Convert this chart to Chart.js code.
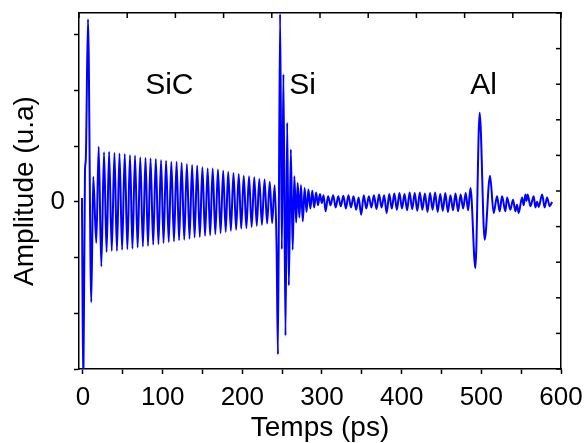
<!DOCTYPE html>
<html><head><meta charset="utf-8">
<script src="https://cdn.jsdelivr.net/npm/chart.js@4"></script>
<style>html,body{margin:0;padding:0;background:#fff}canvas{display:block}</style>
</head><body>
<canvas id="c" width="585" height="443"></canvas>
<script>
// ---- data (time in ps, amplitude in arbitrary units) ----
const onsetTime = [-1.3, 0.4, 2.5, 3.5, 6.3, 10.4, 12.9, 16.7, 19.7, 23.0];
const onsetAmp  = [0.07, -3.4, 0.55, 0.75, 3.28, -1.8, 0.45, -0.74, 0.99, -1.16];

const sicTime = [26.4, 29.6, 32.8, 36.1, 39.5, 42.6, 45.8, 49.1, 52.4, 55.7, 59.0, 62.1, 65.3, 68.6, 71.9, 75.2,
  78.5, 81.6, 84.8, 88.1, 91.4, 94.7, 98.0, 101.1, 104.3, 107.6, 110.9, 114.2, 117.5, 120.6, 123.8, 127.1,
  130.4, 133.7, 137.0, 140.1, 143.3, 146.6, 149.9, 153.2, 156.5, 159.6, 162.8, 166.1, 169.4, 172.7, 176.0, 179.1,
  182.3, 185.6, 188.9, 192.2, 195.5, 198.6, 201.8, 205.1, 208.4, 211.7, 215.0, 218.1, 221.3, 224.6, 227.9, 231.1,
  234.4, 237.4, 240.6];
const sicAmp = [0.89, -0.9, 0.9, -0.88, 0.88, -0.88, 0.87, -0.86, 0.86, -0.85, 0.84, -0.84, 0.83, -0.82, 0.8, -0.8,
  0.79, -0.79, 0.78, -0.77, 0.77, -0.76, 0.75, -0.74, 0.74, -0.72, 0.72, -0.71, 0.72, -0.69, 0.7, -0.68,
  0.68, -0.66, 0.66, -0.64, 0.65, -0.63, 0.62, -0.61, 0.6, -0.6, 0.6, -0.58, 0.58, -0.56, 0.56, -0.54,
  0.54, -0.52, 0.52, -0.5, 0.5, -0.48, 0.47, -0.47, 0.46, -0.45, 0.44, -0.43, 0.41, -0.41, 0.4, -0.39,
  0.36, -0.38, 0.3];

const siTime = [243.0, 244.7, 247.4, 249.6, 251.6, 254.2, 256.3, 258.4, 260.9, 263.2, 265.3, 267.6, 269.5, 271.6,
  273.6, 275.9, 278.2, 280.6, 283.0, 285.4, 287.8, 290.2, 292.6, 295.0, 297.4, 299.8, 302.0, 304.5];
const siAmp = [-0.8, -2.74, 3.37, -0.85, 2.29, -2.4, 1.42, -1.5, 0.94, -0.86, 0.46, -0.37, 0.34, -0.28,
  0.3, -0.35, 0.25, -0.18, 0.22, -0.12, 0.2, -0.1, 0.17, -0.06, 0.14, -0.02, 0.12, -0.17];

const flatTime = [307.6, 310.8, 314.0, 317.2, 320.4, 323.6, 326.8, 330.0, 333.2, 336.4, 339.6, 342.8, 346.0, 349.2,
  352.4, 355.6, 358.8, 362.0, 365.2, 368.4, 371.6, 374.8, 378.0, 381.2, 384.4, 387.6, 390.8, 394.0, 397.2, 400.4,
  403.6, 406.8, 410.0, 413.2, 416.4, 419.6, 422.8, 426.0, 429.2, 432.4, 435.6, 438.8, 442.0, 445.2, 448.4, 451.6,
  454.8, 458.0, 461.2, 464.4, 467.6, 470.8, 474.0, 477.2, 480.4, 483.4, 486.4];
const flatAmp = [0.1, -0.06, 0.12, -0.1, 0.1, -0.08, 0.11, -0.12, 0.12, -0.1, 0.1, -0.14, 0.08, -0.23,
  0.12, -0.12, 0.1, -0.1, 0.12, -0.13, 0.13, -0.1, 0.12, -0.2, 0.14, -0.12, 0.15, -0.14, 0.16, -0.12,
  0.14, -0.15, 0.17, -0.13, 0.16, -0.16, 0.17, -0.14, 0.15, -0.18, 0.16, -0.14, 0.17, -0.18, 0.14, -0.16,
  0.16, -0.18, 0.12, -0.15, 0.15, -0.17, 0.13, -0.12, 0.16, -0.15, 0.25];

const alTime = [492.5, 497.9, 504.2, 510.9, 515.5, 519.7, 523.0, 526.0, 530.2, 532.3, 536.4, 539.8, 542.7, 544.8,
  546.9, 551.1, 553.2, 555.3, 556.8, 558.2, 561.6, 565.7, 567.9, 570.0, 572.0, 576.3, 579.5, 582.5, 585.8, 588.8];
const alAmp = [-1.19, 1.6, -0.68, 0.47, -0.2, 0.1, -0.17, 0.1, -0.17, 0.08, -0.14, 0.04, -0.17, -0.05,
  -0.2, 0.08, -0.06, 0.13, 0.02, 0.13, -0.08, 0.1, -0.1, 0.0, -0.09, 0.13, -0.1, 0.08, -0.08, 0.0];

const peakLabels = ['SiC', 'Si', 'Al'];
const xAxisTitle = 'Temps (ps)';
const yAxisTitle = 'Amplitude (u.a)';

// ---- presentation ----
const FONT = '"Liberation Sans", Arial, Helvetica, sans-serif';
const labelAnchors = [{x: 78, y: 1.93}, {x: 258.8, y: 1.93}, {x: 486, y: 1.93}];

const time = [].concat(onsetTime, sicTime, siTime, flatTime, alTime);
const amp = [].concat(onsetAmp, sicAmp, siAmp, flatAmp, alAmp);
const points = time.map((t, i) => ({x: t, y: amp[i]}));

const frameTicks = {
  id: 'frameTicks',
  afterDraw(chart) {
    const {ctx, chartArea: a, scales} = chart;
    ctx.save();
    ctx.strokeStyle = '#000';
    ctx.lineWidth = 1.5;
    scales.x2.ticks.forEach(t => {
      const px = scales.x2.getPixelForValue(t.value);
      ctx.beginPath(); ctx.moveTo(px, a.top); ctx.lineTo(px, a.top + 5); ctx.stroke();
    });
    scales.y2.ticks.forEach(t => {
      const py = scales.y2.getPixelForValue(t.value);
      ctx.beginPath(); ctx.moveTo(a.right, py); ctx.lineTo(a.right - 5, py); ctx.stroke();
    });
    ctx.fillStyle = '#000';
    ctx.font = '30px ' + FONT;
    ctx.textAlign = 'left';
    ctx.textBaseline = 'alphabetic';
    peakLabels.forEach((s, i) => {
      ctx.fillText(s, scales.x.getPixelForValue(labelAnchors[i].x), scales.y.getPixelForValue(labelAnchors[i].y));
    });
    ctx.restore();
  }
};

function zeroPad(s) { s.paddingLeft = 0; s.paddingRight = 0; s.paddingTop = 0; s.paddingBottom = 0; }

const axisGrid = {display: true, drawOnChartArea: false, drawTicks: true, tickLength: 5, color: '#000', tickWidth: 1.5, tickColor: '#000'};
const axisBorder = {display: true, color: '#000', width: 1.5};

new Chart(document.getElementById('c'), {
  type: 'line',
  data: {
    datasets: [{
      data: points,
      borderColor: '#0000FF',
      borderWidth: 2,
      pointRadius: 0,
      fill: false,
      cubicInterpolationMode: 'monotone'
    }]
  },
  options: {
    responsive: false,
    animation: false,
    devicePixelRatio: 1,
    layout: {padding: {top: 13, right: 24, left: 0, bottom: 0}},
    plugins: {legend: {display: false}, tooltip: {enabled: false}},
    scales: {
      x: {
        type: 'linear', position: 'bottom', min: -5, max: 600,
        afterFit(s) { s.height = 74; zeroPad(s); },
        ticks: {stepSize: 50, includeBounds: false, autoSkip: false, maxRotation: 0, color: '#000',
          font: {family: FONT, size: 26}, padding: 8,
          callback: v => (v % 100 === 0 ? String(v) : '')},
        grid: axisGrid, border: axisBorder,
        title: {display: true, text: xAxisTitle, color: '#000', font: {family: FONT, size: 28}, padding: {top: 0, bottom: -2}}
      },
      y: {
        type: 'linear', position: 'left', min: -3, max: 3.39,
        afterFit(s) { s.width = 79; zeroPad(s); },
        ticks: {stepSize: 1, includeBounds: false, color: '#000', font: {family: FONT, size: 26}, padding: 9,
          callback: v => (v === 0 ? '0' : '')},
        grid: axisGrid, border: axisBorder,
        title: {display: true, text: yAxisTitle, color: '#000', font: {family: FONT, size: 28}, padding: {top: 8, bottom: 0}}
      },
      x2: {
        type: 'linear', position: 'top', min: 0, max: 10,
        afterFit(s) { s.height = 0; zeroPad(s); },
        ticks: {display: false, stepSize: 1},
        grid: {display: true, drawOnChartArea: false, drawTicks: false},
        border: axisBorder
      },
      y2: {
        type: 'linear', position: 'right', min: 0, max: 10,
        afterFit(s) { s.width = 0; zeroPad(s); },
        ticks: {display: false, stepSize: 1},
        grid: {display: true, drawOnChartArea: false, drawTicks: false},
        border: axisBorder
      }
    }
  },
  plugins: [frameTicks]
});
</script>
</body></html>
